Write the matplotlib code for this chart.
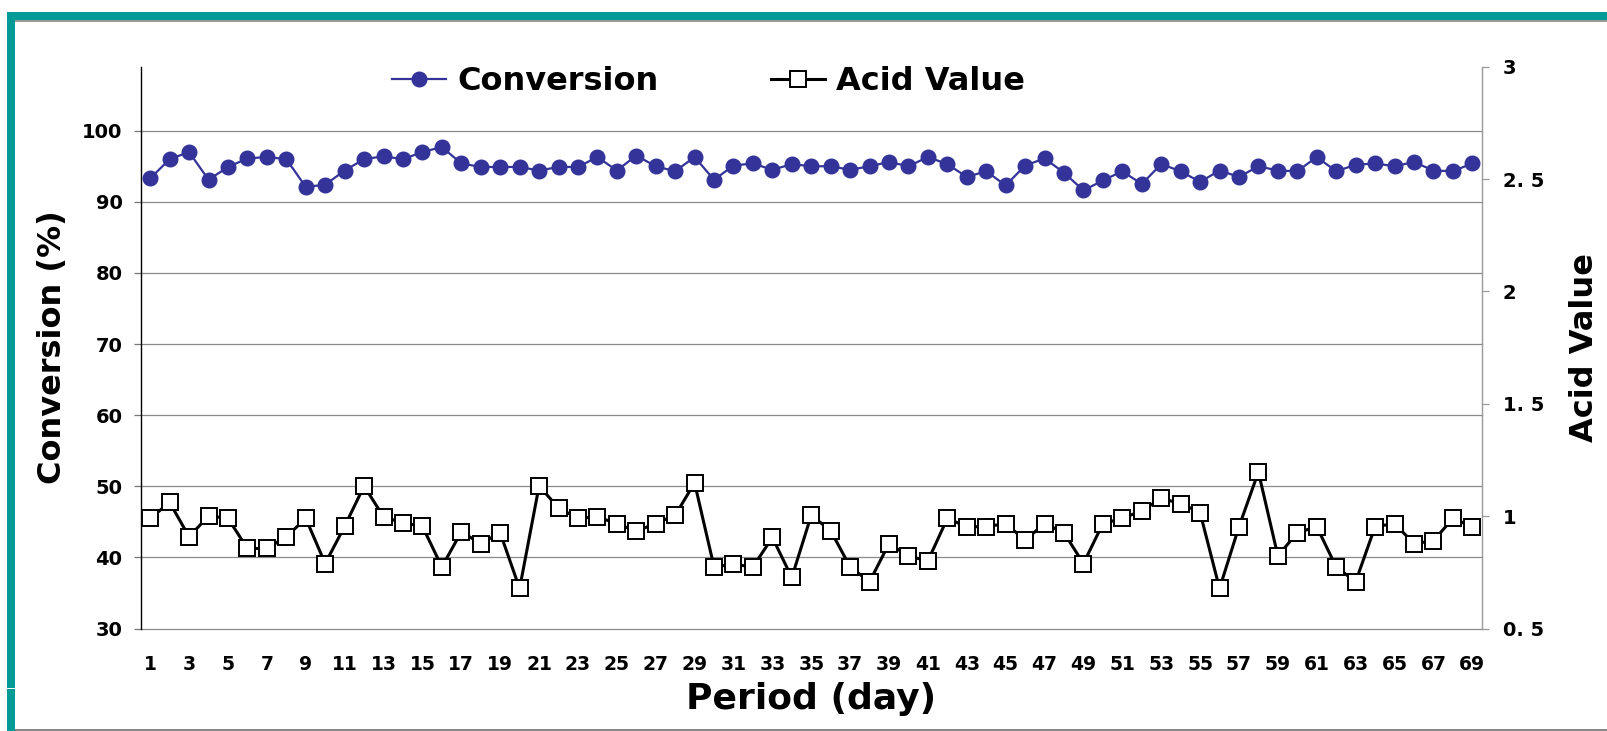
import matplotlib.pyplot as plt
from matplotlib.patches import Rectangle
from matplotlib.lines import Line2D

days = list(range(1, 70))

conversion = [
    93.3, 96.0, 97.0, 93.1, 94.9, 96.1, 96.3, 96.0, 92.1, 92.4,
    94.4, 96.0, 96.4, 96.0, 97.0, 97.7, 95.4, 94.9, 94.9, 94.9,
    94.4, 94.9, 94.9, 96.3, 94.4, 96.5, 95.0, 94.3, 96.3, 93.1,
    95.1, 95.4, 94.5, 95.3, 95.0, 95.0, 94.5, 95.0, 95.6, 95.0,
    96.3, 95.3, 93.5, 94.3, 92.3, 95.1, 96.1, 94.1, 91.6, 93.0,
    94.3, 92.5, 95.3, 94.3, 92.8, 94.4, 93.5, 95.0, 94.4, 94.3,
    96.3, 94.3, 95.2, 95.4, 95.0, 95.6, 94.4, 94.3, 95.4,
]

acid_value = [
    0.990, 1.061, 0.908, 1.001, 0.990, 0.856, 0.856, 0.908, 0.990, 0.789,
    0.955, 1.134, 0.997, 0.970, 0.955, 0.774, 0.930, 0.878, 0.926, 0.678,
    1.134, 1.037, 0.990, 0.997, 0.967, 0.933, 0.967, 1.004, 1.148, 0.774,
    0.786, 0.774, 0.905, 0.727, 1.004, 0.935, 0.774, 0.708, 0.878, 0.822,
    0.801, 0.990, 0.953, 0.953, 0.967, 0.893, 0.967, 0.926, 0.789, 0.967,
    0.990, 1.024, 1.079, 1.056, 1.016, 0.678, 0.953, 1.197, 0.823, 0.926,
    0.953, 0.774, 0.708, 0.953, 0.967, 0.878, 0.890, 0.990, 0.953,
]

conv_ticks = [30, 40, 50, 60, 70, 80, 90, 100]
acid_ticks = [0.5, 1, 1.5, 2, 2.5, 3]
acid_labels = ["0. 5", "1", "1. 5", "2", "2. 5", "3"]

W, H = 1607, 731
BLUE = "#333399"
TEAL = "#049A96"

plt.rcParams["font.family"] = ["DejaVu Sans"]
plt.rcParams["font.weight"] = "bold"

fig = plt.figure(figsize=(W / 100, H / 100), dpi=100)

# slide-like frame
fig.add_artist(Rectangle((7 / W, 1 - 20 / H), 1 - 7 / W, 8 / H, transform=fig.transFigure,
                         facecolor=TEAL, edgecolor="none"))
fig.add_artist(Rectangle((15 / W, 1 - 21.5 / H), 1 - 15 / W, 1.5 / H, transform=fig.transFigure,
                         facecolor="#999999", edgecolor="none"))
fig.add_artist(Rectangle((7 / W, 0), 8 / W, 1 - 12 / H, transform=fig.transFigure,
                         facecolor=TEAL, edgecolor="none"))
fig.add_artist(Rectangle((7 / W, 1 - 689 / H), 8 / W, 1.2 / H, transform=fig.transFigure,
                         facecolor="white", edgecolor="none"))
fig.add_artist(Rectangle((15 / W, 0), 1 - 15 / W, 2 / H, transform=fig.transFigure,
                         facecolor="#888888", edgecolor="none"))

left, right, top, bottom = 140.5, 1482, 66.7, 628.5
ax = fig.add_axes([left / W, 1 - bottom / H, (right - left) / W, (bottom - top) / H])
ax2 = ax.twinx()

ax.plot(days, conversion, color=BLUE, lw=1.6, marker="o", ms=10.5,
        mfc=BLUE, mec=BLUE, zorder=3)
ax2.plot(days, acid_value, color="black", lw=2.2, marker="s", ms=11,
         mfc="white", mec="black", mew=1.4, zorder=3)

ax.set_xlim(0.5, 69.5)
ax.set_ylim(30, 109)
ax2.set_ylim(0.5, 3)

ax.set_yticks(conv_ticks)
ax.set_xticks(days[::2])
ax2.set_yticks(acid_ticks)
ax2.set_yticklabels(acid_labels)

for t in conv_ticks:
    ax.axhline(t, color="#8a8a8a", lw=0.9, zorder=1, clip_on=False)

for a in (ax, ax2):
    a.spines["top"].set_visible(False)
    a.spines["bottom"].set_visible(False)
ax.spines["right"].set_visible(False)
ax2.spines["left"].set_visible(False)
ax.spines["left"].set_color("black")
ax.spines["left"].set_linewidth(1.0)
ax2.spines["right"].set_color("#999999")
ax2.spines["right"].set_linewidth(1.0)

ax.tick_params(axis="y", direction="out", length=5, width=0.9, color="#777777",
               pad=8, labelsize=14)
ax.tick_params(axis="x", length=0, pad=19, labelsize=13.5)
ax2.tick_params(axis="y", direction="out", length=5, width=0.9, color="#999999",
                pad=10, labelsize=14)

ax.set_ylabel("Conversion (%)", fontsize=23, fontweight="bold", labelpad=10)
ax2.set_ylabel("Acid Value", fontsize=23, fontweight="bold", labelpad=18)
ax.set_xlabel("Period (day)", fontsize=26, fontweight="bold", labelpad=6)

handles = [
    Line2D([], [], color=BLUE, lw=1.6, marker="o", ms=10.5, mfc=BLUE, mec=BLUE),
    Line2D([], [], color="black", lw=2.2, marker="s", ms=11, mfc="white", mec="black", mew=1.4),
]
fig.legend(handles, ["Conversion", "Acid Value"], loc="center left",
           bbox_to_anchor=(392 / W, 1 - 82 / H), ncol=2, frameon=False,
           handlelength=1.7, handletextpad=0.35, columnspacing=3.5,
           borderpad=0, borderaxespad=0, prop={"weight": "bold", "size": 23})

fig.savefig("out.png", dpi=100)
